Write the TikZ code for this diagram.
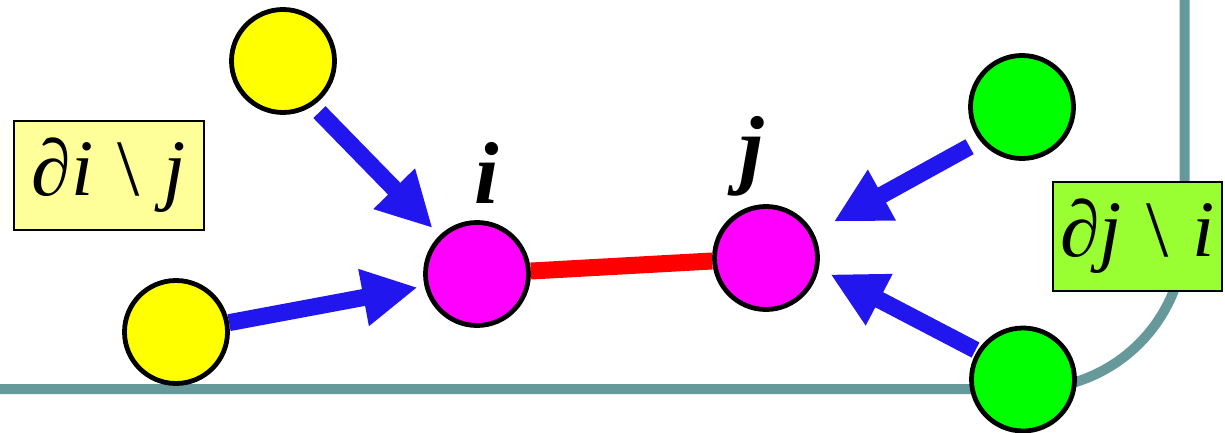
\documentclass[tikz,border=0pt]{standalone}
\usepackage{fontspec}
\setmainfont{Liberation Serif}
\usetikzlibrary{arrows.meta,backgrounds}
\definecolor{arrblue}{RGB}{34,22,238}
\definecolor{tealline}{RGB}{102,153,153}
\definecolor{boxyellow}{RGB}{255,255,153}
\definecolor{boxgreen}{RGB}{153,255,51}
\definecolor{vyellow}{RGB}{255,255,0}
\definecolor{vmagenta}{RGB}{255,0,255}
\definecolor{vgreen}{RGB}{0,255,0}
\definecolor{vred}{RGB}{255,0,0}
\begin{document}
\begin{tikzpicture}[x=1pt,y=-1pt,
  vert/.style={circle,draw=black,line width=4.8pt,minimum size=103pt,inner sep=0pt},
  arr/.style={draw=arrblue,line width=17pt,-{Triangle[length=55pt,width=54pt]}},
  setbox/.style={draw=black,line width=1.5pt,minimum height=109pt,inner sep=0pt,font=\fontsize{80}{82}\selectfont},
  lab/.style={font=\fontsize{88}{90}\selectfont\bfseries\itshape,inner sep=0pt}]
\useasboundingbox (0,0) rectangle (1225,433);
\node[vert,fill=vyellow] (y1) at (283,61) {};
\node[vert,fill=vyellow] (y2) at (176,332) {};
\node[vert,fill=vmagenta] (i) at (477,274) {};
\node[vert,fill=vmagenta] (j) at (766,258) {};
\node[vert,fill=vgreen] (g1) at (1022,107) {};
\node[vert,fill=vgreen] (g2) at (1023,379.5) {};
\begin{scope}[on background layer]
  \draw[tealline,line width=10pt,rounded corners=155pt] (-10,389) -- (1184.5,389) -- (1184.5,-10);
  \draw[vred,line width=17pt] (i) -- (j);
  \draw[arr,shorten <=9pt,shorten >=10pt] (y1.-56) -- (i.134);
  \draw[arr,shorten >=7pt] (y2.10.7) -- (i.-167.8);
  \draw[arr,shorten <=12pt,shorten >=23pt] (g1.-141.7) -- (j.28.6);
  \draw[arr,shorten <=2pt,shorten >=13pt] (g2.148.9) -- (j.-11.1);
\end{scope}
\node[lab,anchor=base] (li) at (487,203) {i};
\node[lab,anchor=base] (lj) at (752,177) {j};
\node[setbox,fill=boxyellow,minimum width=190pt] (b1) at (109,175.5) {\itshape ∂i\hspace{0.3em}\upshape\textbackslash\hspace{0.3em}\itshape j};
\node[setbox,fill=boxgreen,minimum width=169pt] (b2) at (1137.5,236.5) {\itshape ∂j\hspace{0.3em}\upshape\textbackslash\hspace{0.3em}\itshape i};
\end{tikzpicture}
\end{document}
